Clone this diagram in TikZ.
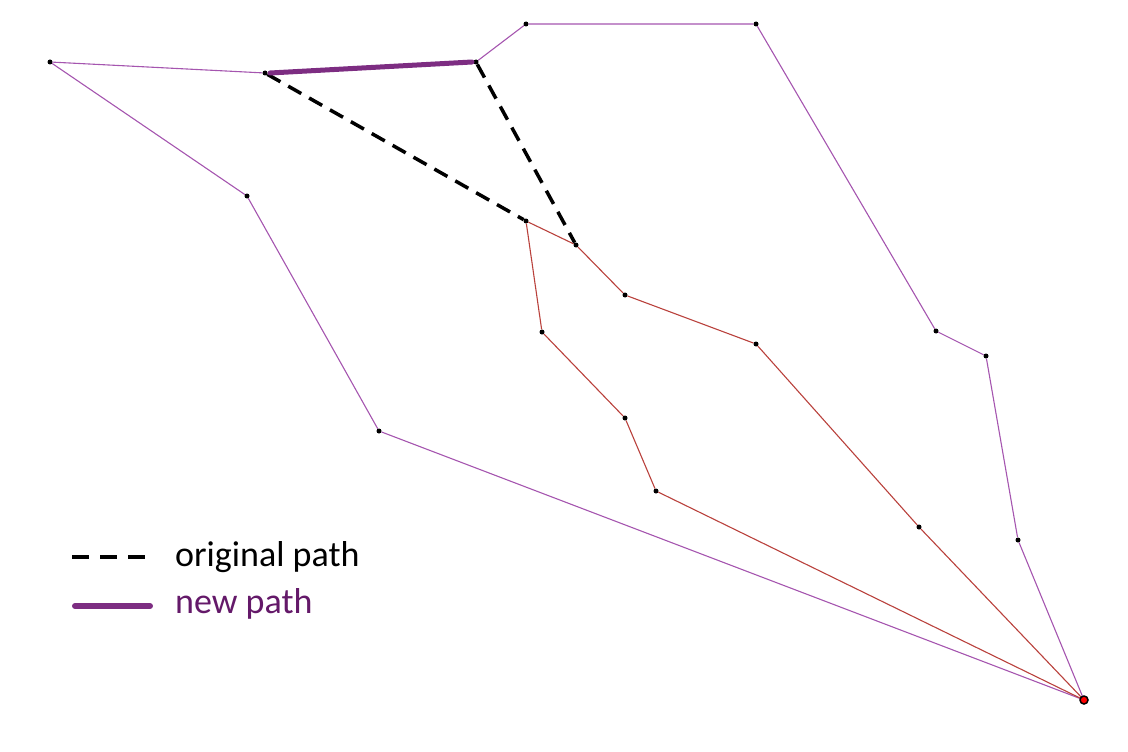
\documentclass[tikz,border=0pt]{standalone}
\usepackage{fontspec}
\setmainfont{Carlito}
\usepackage{tikz}
\usetikzlibrary{positioning}
\definecolor{thinpurple}{RGB}{165,85,175}
\definecolor{newpurple}{RGB}{125,45,130}
\definecolor{redline}{RGB}{185,65,60}
\definecolor{legendpurple}{RGB}{100,25,105}

\begin{document}
\begin{tikzpicture}[%
		x=1pt,
		y=-1pt,
		dot/.style={%
			circle,
			fill=black,
			inner sep=0pt,
			minimum size=5pt
		},
		purpleline/.style={thinpurple, line width=1.1pt},
		redpath/.style={redline, line width=1.1pt},
		oldpath/.style={black, line width=3.5pt, dash pattern=on 15pt off 9pt},
		newpath/.style={newpurple, line width=5pt, line cap=round},
		legendtext/.style={anchor=west, font=\fontsize{36}{40}\selectfont, inner sep=0pt}
		]
		\useasboundingbox (0,0) rectangle (1128,752);
		% outer points
		\node[dot] (a)  at (50,62)   {};
		\node[dot] (b)  at (265,73)  {};
		\node[dot] (c)  at (476,62)  {};
		\node[dot] (d)  at (526,24)  {};
		\node[dot] (e)  at (756,24)  {};
		\node[dot] (f)  at (936,331) {};
		\node[dot] (g)  at (986,356) {};
		\node[dot] (h)  at (1018,540) {};
		\node[dot] (l1) at (247,196) {};
		\node[dot] (l2) at (379,431) {};
		% inner points
		\node[dot] (r0) at (526,221) {};
		\node[dot] (r1) at (576,245) {};
		\node[dot] (r2) at (625,295) {};
		\node[dot] (r3) at (756,344) {};
		\node[dot] (r4) at (919,527) {};
		\node[dot] (s1) at (542,332) {};
		\node[dot] (s2) at (625,418) {};
		\node[dot] (s3) at (656,491) {};
		% goal
		\coordinate (end) at (1084,700);
		
		\draw[purpleline] (a) -- (b);
		\draw[purpleline] (c) -- (d) -- (e) -- (f) -- (g) -- (h) -- (end);
		\draw[purpleline] (a) -- (l1) -- (l2) -- (end);
		\draw[redpath] (r0) -- (r1) -- (r2) -- (r3) -- (r4) -- (end);
		\draw[redpath] (r0) -- (s1) -- (s2) -- (s3) -- (end);
		\draw[oldpath] (b) -- (r0);
		\draw[oldpath] (c) -- (r1);
		\draw[newpath] ([xshift=5pt]b.center) -- ([xshift=-4pt]c.center);
		\node[circle, fill=red, draw=black, line width=1.5pt, inner sep=0pt, minimum size=8pt] (goal) at (end) {};
		
		% legend
		\coordinate (k1) at (72,557);
		\coordinate (k2) at (150,557);
		\coordinate (k3) at (75,606);
		\coordinate (k4) at (150,606);
		\draw[oldpath, dash pattern=on 17pt off 11pt] (k1) -- (k2);
		\draw[newpath, line width=6pt] (k3) -- (k4);
		\node[legendtext] (t1) at (175,557) {original path};
		\node[legendtext, text=legendpurple] (t2) at (175,604) {new path};
		\end{tikzpicture}
\end{document}
